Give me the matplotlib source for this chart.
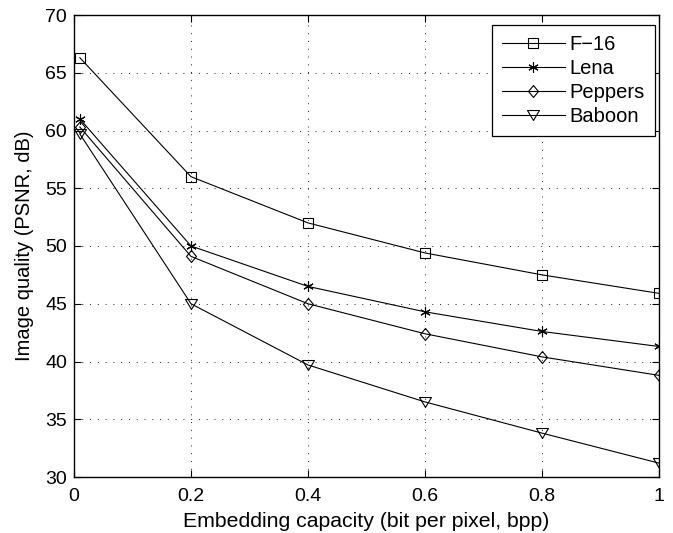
import matplotlib
matplotlib.use("Agg")
import matplotlib.pyplot as plt

plt.rcParams['font.family'] = ['Liberation Sans', 'DejaVu Sans']

x = [0.01, 0.2, 0.4, 0.6, 0.8, 1.0]
f16 = [66.3, 56.0, 52.0, 49.4, 47.5, 45.9]
lena = [61.0, 50.0, 46.5, 44.3, 42.6, 41.3]
peppers = [60.3, 49.1, 45.0, 42.4, 40.4, 38.8]
baboon = [59.7, 45.0, 39.7, 36.5, 33.8, 31.2]
names = ['F\u221216', 'Lena', 'Peppers', 'Baboon']
xticks = [0, 0.2, 0.4, 0.6, 0.8, 1.0]
xticklabels = ['0', '0.2', '0.4', '0.6', '0.8', '1']
yticks = [30, 35, 40, 45, 50, 55, 60, 65, 70]

diamond = [(0, 0.6), (0.5, 0), (0, -0.6), (-0.5, 0), (0, 0.6)]
tri_down = [(-0.6, 0.5), (0.6, 0.5), (0, -0.5), (-0.6, 0.5)]
styles = [
    dict(marker='s', markersize=6.5),
    dict(marker=(6, 2, 0), markersize=7.5),
    dict(marker=diamond, markersize=8.6),
    dict(marker=tri_down, markersize=8.6),
]

fig = plt.figure(figsize=(6.73, 5.33), dpi=100)
ax = fig.add_axes([74/673, 1-477/533, (659-74)/673, (477-15)/533])

for ys, name, st in zip([f16, lena, peppers, baboon], names, styles):
    ax.plot(x, ys, color='black', linewidth=0.8, label=name,
            markerfacecolor='none', markeredgecolor='black', markeredgewidth=0.8, **st)

ax.set_xlim(0, 1)
ax.set_ylim(30, 70)
ax.set_xticks(xticks)
ax.set_xticklabels(xticklabels)
ax.set_yticks(yticks)
ax.grid(True, linestyle=(0, (1, 7)), color='#222222', linewidth=0.7)
ax.tick_params(direction='in', top=True, right=True, labelsize=14, length=5, width=0.8)
ax.tick_params(axis='x', pad=8)
ax.tick_params(axis='y', pad=5)
ax.set_xlabel('Embedding capacity (bit per pixel, bpp)', fontsize=15.3, labelpad=5)
ax.set_ylabel('Image quality (PSNR, dB)', fontsize=14.5, labelpad=8)
for s in ax.spines.values():
    s.set_linewidth(1.0)

leg = ax.legend(loc='upper right', bbox_to_anchor=((655-74)/585, 1-(25-15)/462),
                borderaxespad=0, fontsize=14.5, fancybox=False, edgecolor='black',
                framealpha=1, handlelength=3.1, borderpad=0.5, labelspacing=0.25,
                handletextpad=0.25)
leg.get_frame().set_linewidth(0.9)

fig.savefig('out.png', dpi=100)
